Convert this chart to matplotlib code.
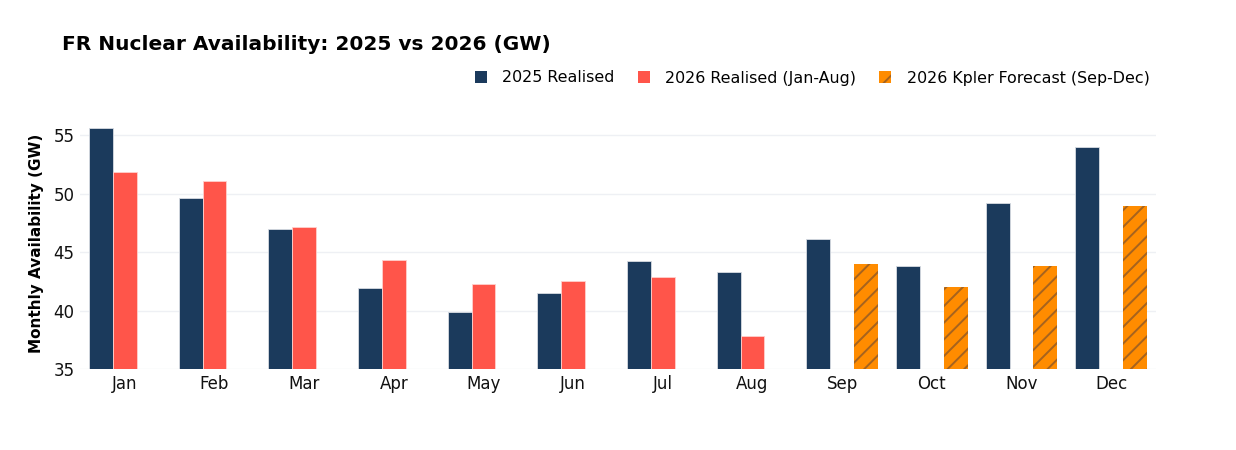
import numpy as np
import matplotlib.pyplot as plt
from matplotlib.patches import Patch

months = ["Jan", "Feb", "Mar", "Apr", "May", "Jun", "Jul", "Aug", "Sep", "Oct", "Nov", "Dec"]
realised_2025 = [55.6, 49.6, 47.0, 41.9, 39.9, 41.5, 44.2, 43.3, 46.1, 43.8, 49.2, 54.0]
realised_2026 = [51.8, 51.1, 47.1, 44.3, 42.3, 42.5, 42.9, 37.8]
forecast_2026 = [44.0, 42.0, 43.8, 48.9]

navy = "#1b3a5c"
red = "#ff554a"
orange = "#ff8c00"
hatch_col = "#a5631f"

plt.rcParams["font.family"] = ["DejaVu Sans"]
plt.rcParams["hatch.linewidth"] = 1.4

fig = plt.figure(figsize=(12.36, 4.5), dpi=100)
ax = fig.add_axes([80 / 1236, 1 - 369 / 450, (1156 - 80) / 1236, (369 - 117.5) / 450])

x = np.arange(len(months))
w = 0.8 / 3

ax.bar(x - w, realised_2025, width=w, color=navy, edgecolor="#d8dce2", linewidth=0.6, zorder=3)
ax.bar(x[:8], realised_2026, width=w, color=red, edgecolor="#ffd0cc", linewidth=0.6, zorder=3)
ax.bar(x[8:] + w, forecast_2026, width=w, color=orange, edgecolor=hatch_col, linewidth=0,
       hatch="//", zorder=3)

ax.set_xlim(-0.5, 11.5)
ax.set_ylim(35, 56.5)
ax.set_yticks([35, 40, 45, 50, 55])
ax.set_xticks(x)
ax.set_xticklabels(months)
ax.tick_params(axis="both", length=0, labelsize=12, colors="#111111")
ax.tick_params(axis="x", pad=4)
ax.tick_params(axis="y", pad=4)
ax.grid(axis="y", color="#eef0f4", linewidth=1, zorder=0)
for s in ax.spines.values():
    s.set_visible(False)

ax.set_ylabel("Monthly Availability (GW)", fontsize=11, fontweight="bold", labelpad=7)

fig.text(62 / 1236, 1 - 44 / 450, "FR Nuclear Availability: 2025 vs 2026 (GW)",
         fontsize=14.5, fontweight="bold", va="center", ha="left")

handles = [
    Patch(facecolor=navy, label="2025 Realised"),
    Patch(facecolor=red, label="2026 Realised (Jan-Aug)"),
    Patch(facecolor=orange, edgecolor=hatch_col, linewidth=0, hatch="/",
          label="2026 Kpler Forecast (Sep-Dec)"),
]
fig.legend(handles=handles, loc="center right", bbox_to_anchor=(1150 / 1236, 1 - 78 / 450),
           ncol=3, frameon=False, fontsize=11.4, handlelength=0.75, handleheight=0.75,
           handletextpad=1.0, columnspacing=1.45, borderaxespad=0, borderpad=0)

fig.savefig("out.png", dpi=100)
